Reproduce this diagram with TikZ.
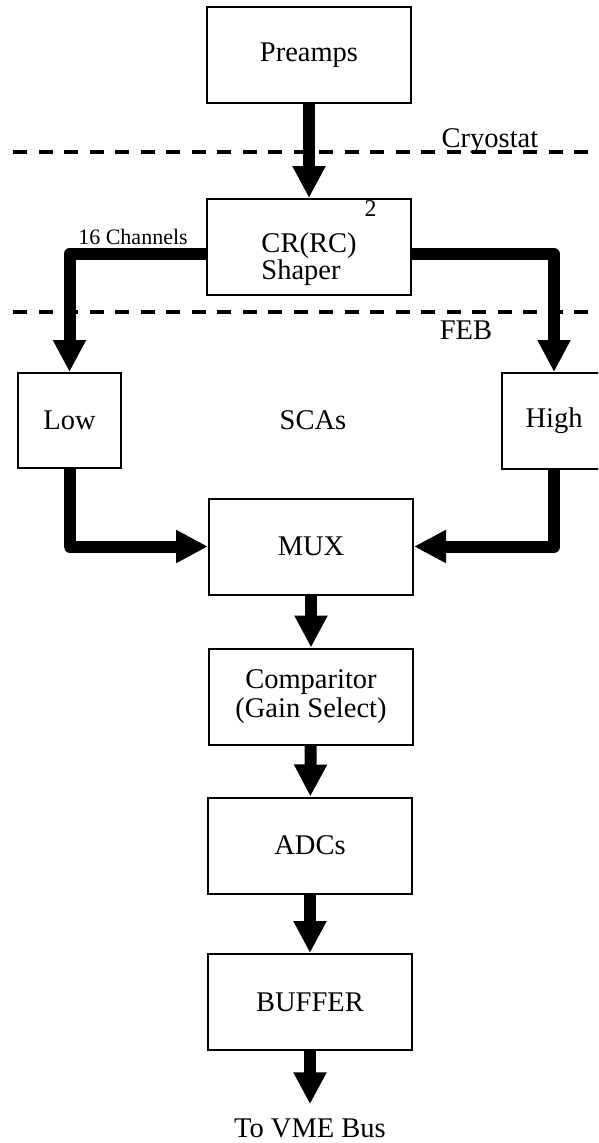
\documentclass[tikz,border=0pt]{standalone}
\usepackage{fontspec}
\setmainfont{Liberation Serif}
\usetikzlibrary{arrows.meta}
\tikzset{
  blk/.style={draw, line width=2pt, minimum width=204pt, minimum height=96pt,
    inner sep=0pt, align=center},
  flow/.style={line width=12pt, line join=round, -{Triangle[width=31pt,length=32pt]}},
  border/.style={line width=4.5pt, dash pattern=on 14pt off 11.5pt},
}
\begin{document}
\begin{tikzpicture}[x=1pt,y=-1pt,font=\fontsize{28.5}{28.5}\selectfont]
\useasboundingbox (0,0) rectangle (598,1143);
\clip (0,0) rectangle (598,1143);
\draw[border] (13,152)--(598,152);
\draw[border] (13,312)--(598,312);
\node[anchor=base] (cryo) at (490,147) {Cryostat};
\node (feb) at (466,330) {FEB};
\node[blk] (pre) at (309,55) {Preamps};
\node[blk,align=left,font=\fontsize{28.5}{27}\selectfont] (shp) at (309,247)
  {CR(RC)\rlap{\hspace{8pt}\raisebox{36pt}[44pt]{\fontsize{24}{24}\selectfont 2}}\\Shaper};
\node[blk,minimum width=103pt,minimum height=95pt] (low) at (69.5,420.5) {Low};
\node[blk,minimum width=104pt] (high) at (554,421) {High};
\node (sca) at (313,420) {SCAs};
\node[blk] (mux) at (311,546.5) {MUX};
\node[blk,font=\fontsize{28.5}{29}\selectfont] (cmp) at (311,696.5) {Comparitor\\(Gain Select)};
\node[blk] (adc) at (310,845.5) {ADCs};
\node[blk] (buf) at (310,1002) {BUFFER};
\node[inner sep=0pt] (vme) at (310,1128) {To VME Bus};
\node[anchor=base,font=\fontsize{22}{22}\selectfont] (chn) at (133,244) {16 Channels};
% signal flow
\draw[flow] (pre)--(shp);
\draw[flow] ([yshift=-7pt]shp.west) -| (low.north);
\draw[flow] ([yshift=-7pt]shp.east) -| (high.north);
\draw[flow] (low.south) |- (mux.west);
\draw[flow] (high.south) |- (mux.east);
\draw[flow] (mux)--(cmp);
\draw[flow] (cmp)--(adc);
\draw[flow] (adc)--(buf);
\draw[flow,shorten >=14pt] (buf)--(vme);
\end{tikzpicture}
\end{document}
